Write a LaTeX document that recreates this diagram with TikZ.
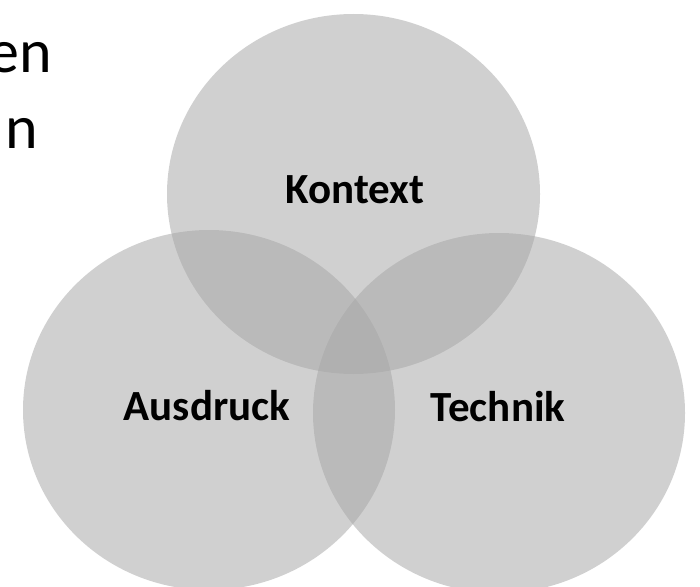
\documentclass[tikz,border=0pt]{standalone}
\usepackage{fontspec}
\setmainfont{Carlito}
\usetikzlibrary{shapes.geometric}
\definecolor{setfill}{RGB}{167,167,167}
\tikzset{
  setblob/.style={ellipse, inner sep=0pt, minimum width=372pt, minimum height=360pt,
    fill=setfill, fill opacity=0.53, draw=none},
  setlabel/.style={font=\fontsize{43}{50}\selectfont\bfseries, text=black, inner sep=0pt},
  cutword/.style={font=\fontsize{62}{70}\selectfont, text=black, inner sep=0pt, anchor=base east}
}
\begin{document}
\begin{tikzpicture}[x=1pt, y=-1pt]
  \useasboundingbox (0,0) rectangle (700,586);
  % the three overlapping sets
  \node[setblob, minimum width=373pt] (kontext) at (353.5,194) {};
  \node[setblob] (ausdruck) at (209,410) {};
  \node[setblob] (technik)  at (499,413) {};
  % set names
  \node[setlabel] (lk) at (355,190) {Kontext};
  \node[setlabel] (la) at (207,406) {Ausdruck};
  \node[setlabel] (lt) at (498,407) {Technik};
  % text running in from the left margin
  \node[cutword] (w1) at (52,72) {en};
  \node[cutword] (w2) at (38,148) {n};
\end{tikzpicture}
\end{document}
